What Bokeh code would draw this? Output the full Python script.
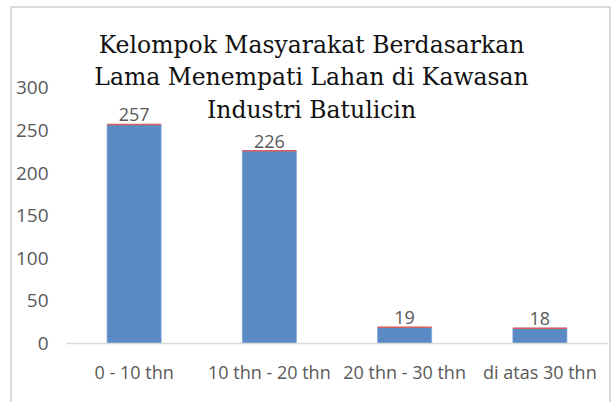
from bokeh.plotting import figure
from bokeh.models import ColumnDataSource, Label, LabelSet, FixedTicker
from bokeh.core.properties import value
from bokeh.embed import file_html
from bokeh.resources import INLINE

categories = ["0 - 10 thn", "10 thn - 20 thn", "20 thn - 30 thn", "di atas 30 thn"]
values = [257, 226, 19, 18]
value_labels = ["257", "226", "19", "18"]
title_lines = ["Kelompok Masyarakat Berdasarkan",
               "Lama Menempati Lahan di Kawasan",
               "Industri Batulicin"]
y_ticks = [0, 50, 100, 150, 200, 250, 300]

W, H = 601, 396
# frame spans the full canvas height so the overlaid title is not clipped;
# the top of the y range is set so that 300 sits where the reference puts it
p = figure(x_range=categories, y_range=(0, 393), width=W, height=H,
           output_backend="svg", toolbar_location=None,
           min_border_left=54, min_border_right=6,
           min_border_top=0, min_border_bottom=61)
p.outline_line_color = None
p.xgrid.grid_line_color = None
p.ygrid.grid_line_color = None
p.background_fill_color = "white"
p.border_fill_color = "white"
p.styles = {"border-top": "2px solid #d9d9d9", "border-left": "2px solid #d9d9d9",
            "border-right": "2px solid #d9d9d9", "box-sizing": "border-box",
            "margin-left": "10px", "margin-top": "6px"}

src = ColumnDataSource(dict(cat=categories, val=values, lab=value_labels))
p.vbar(x="cat", top="val", width=0.4, source=src, fill_color="#5b8bc5",
       line_color="#7aa3d6", line_width=0.6)
p.vbar(x="cat", top="val", bottom="val", width=0.4, source=src,
       fill_color=None, line_color="#d9605a", line_width=1.5)

labels = LabelSet(x="cat", y="val", text="lab", source=src, text_align="center",
                  text_baseline="alphabetic", y_offset=3,
                  text_font=value("Open Sans"), text_font_size=value("18px"),
                  text_color=value("#595959"))
p.add_layout(labels)

p.yaxis.ticker = FixedTicker(ticks=y_ticks)
p.yaxis.axis_line_color = None
p.yaxis.major_tick_line_color = None
p.yaxis.minor_tick_line_color = None
p.yaxis.major_label_standoff = 12
p.yaxis.major_label_text_font = "Open Sans"
p.yaxis.major_label_text_font_size = "19px"
p.yaxis.major_label_text_color = "#595959"

p.xaxis.axis_line_color = "#d9d9d9"
p.xaxis.axis_line_width = 1.5
p.xaxis.major_tick_line_color = None
p.xaxis.minor_tick_line_color = None
p.xaxis.major_label_standoff = 10
p.xaxis.major_label_text_font = "Open Sans"
p.xaxis.major_label_text_font_size = "18px"
p.xaxis.major_label_text_color = "#595959"

for line, yb in zip(title_lines, [299, 267, 234]):
    p.add_layout(Label(x=245, y=yb, x_units="screen", y_units="screen", text=line,
                       text_align="center", text_baseline="alphabetic",
                       text_font="DejaVu Serif", text_font_size="23.5px",
                       text_color="#111111"))

open("out.html", "w").write(file_html(p, INLINE))
